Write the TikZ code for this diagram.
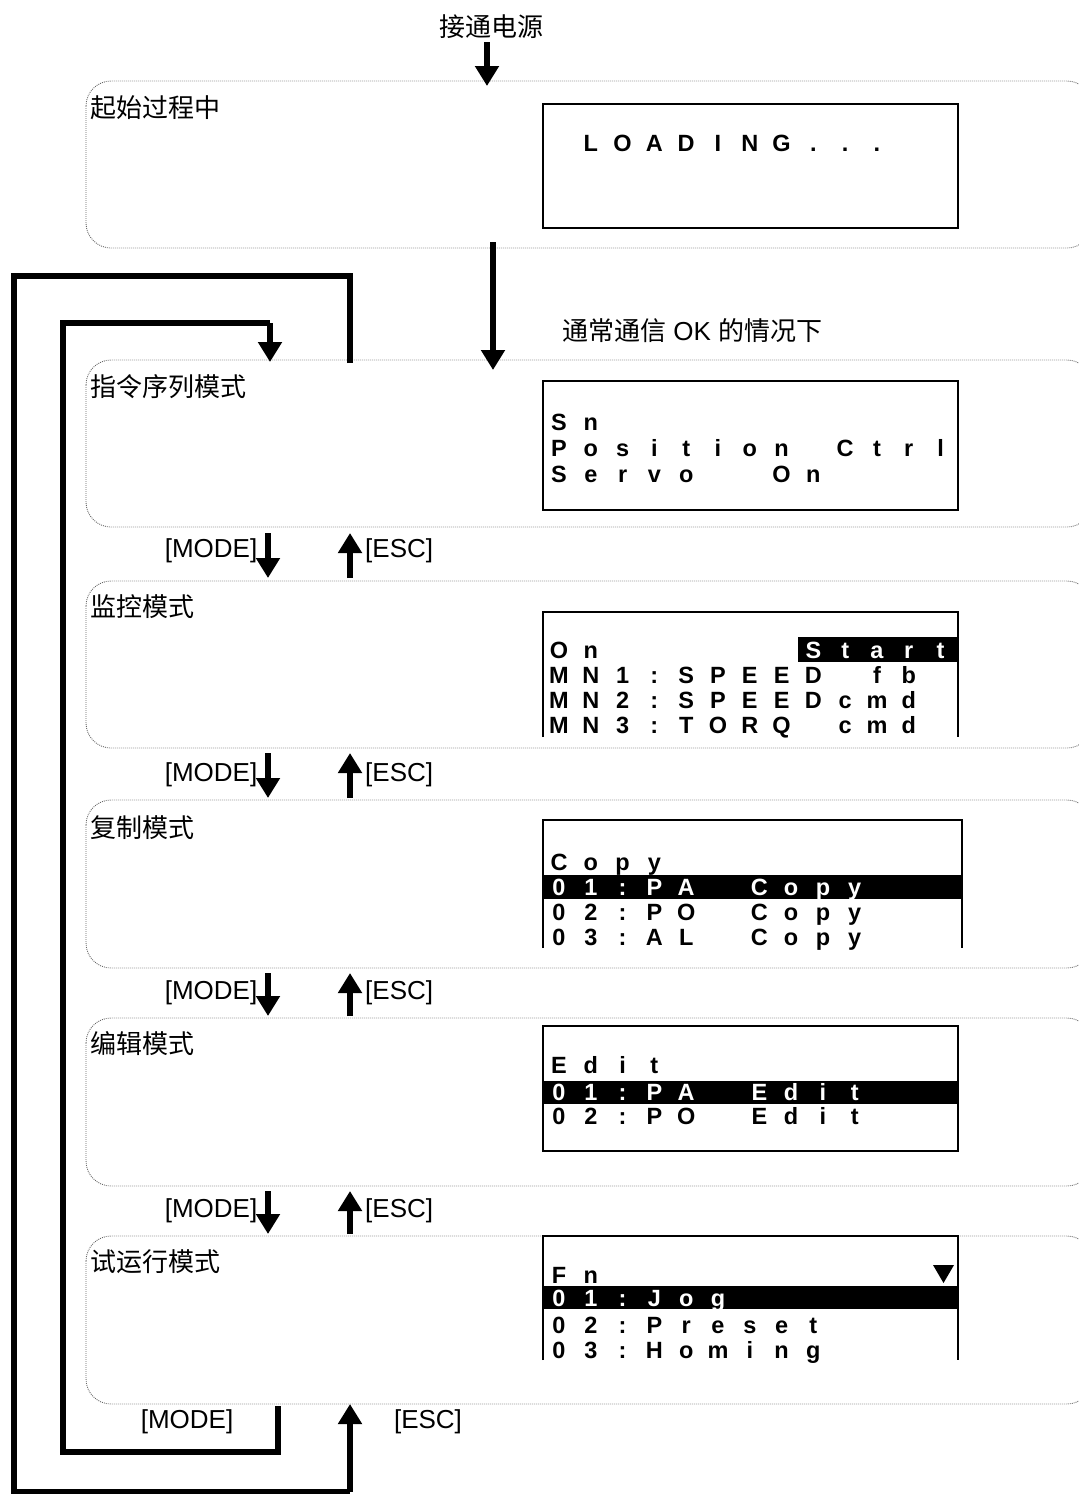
\documentclass[tikz,border=0pt]{standalone}
\usepackage{fontspec}
\setmainfont{Liberation Sans}
\newfontfamily\cjk{Noto Sans CJK SC}
\usetikzlibrary{arrows.meta}
\tikzset{
  modebox/.style={draw=black!60, line width=0.9pt, dash pattern=on 0.9pt off 1.1pt, rounded corners=25pt},
  lcdframe/.style={draw=black, line width=2.2pt},
  flow/.style={line width=6pt, -{Triangle[width=23pt,length=20pt]}},
  loopline/.style={line width=6pt, line join=miter},
  modelbl/.style={anchor=west, inner sep=0pt, font=\cjk\fontsize{26}{30}\selectfont},
  keylbl/.style={inner sep=0pt, font=\fontsize{26}{30}\selectfont},
  lcdch/.style={inner sep=0pt, text height=17pt, text depth=0pt, font=\fontsize{23.5}{26}\selectfont\bfseries},
  hibar/.style={fill=black}
}
\newcommand\lcdrow[5]{%
  \foreach \ch [count=\k from 0] in {#5} {\node[lcdch,text=#2] (#1-\k) at ({559+31.8*(#3+\k)},#4) {\ch};}}
\begin{document}
\begin{tikzpicture}[x=1pt,y=-1pt]
\useasboundingbox (0,0) rectangle (1079,1494);

% top label
\node[keylbl, font=\cjk\fontsize{26}{30}\selectfont] (power) at (491,27) {接通电源};

% mode boxes
\draw[modebox] (86,81) rectangle (1092,248);
\draw[modebox] (86,360) rectangle (1092,527);
\draw[modebox] (86,581) rectangle (1092,748);
\draw[modebox] (86,800) rectangle (1092,968);
\draw[modebox] (86,1018) rectangle (1092,1186);
\draw[modebox] (86,1236) rectangle (1092,1404);

\node[modelbl] (m1) at (90,108) {起始过程中};
\node[modelbl] (m2) at (90,387) {指令序列模式};
\node[modelbl] (m3) at (90,607) {监控模式};
\node[modelbl] (m4) at (90,828) {复制模式};
\node[modelbl] (m5) at (90,1044) {编辑模式};
\node[modelbl] (m6) at (90,1262) {试运行模式};

% flow arrows
\coordinate (a0) at (487,42); \coordinate (a1) at (487,86);
\draw[flow] (a0) -- (a1);
\coordinate (b0) at (493,242); \coordinate (b1) at (493,370);
\draw[flow] (b0) -- (b1);
\node[anchor=west, inner sep=0pt, font=\fontsize{26}{30}\selectfont] (okl) at (562,331) {{\cjk 通常通信} OK {\cjk 的情况下}};

% MODE / ESC between boxes
\foreach \yt/\ya/\yb [count=\n] in {551/533/578, 775/753/798, 993/973/1016, 1211/1191/1234} {
  \node[keylbl] (mode\n) at (211,\yt) {[MODE]};
  \node[keylbl,anchor=west] (esc\n) at (365,\yt) {[ESC]};
  \coordinate (md\n a) at (268,\ya); \coordinate (md\n b) at (268,\yb);
  \coordinate (es\n a) at (350,\yb); \coordinate (es\n b) at (350,\ya);
  \draw[flow] (md\n a) -- (md\n b);
  \draw[flow] (es\n a) -- (es\n b);
}

% bottom labels
\node[keylbl] (modeB) at (187,1422) {[MODE]};
\node[keylbl] (escB) at (428,1422) {[ESC]};

% outer loop (ESC)
\coordinate (o1) at (350,363); \coordinate (o2) at (350,276);
\coordinate (o3) at (14,276); \coordinate (o4) at (14,1492);
\coordinate (o5) at (350,1492); \coordinate (o6) at (350,1404);
\draw[loopline] (o1) -- (o2) -- (o3) -- (o4) -- (o5);
\draw[flow] (o5) -- (o6);

% inner loop (MODE)
\coordinate (i1) at (278,1406); \coordinate (i2) at (278,1452);
\coordinate (i3) at (63,1452); \coordinate (i4) at (63,323);
\coordinate (i5) at (270,323); \coordinate (i6) at (270,362);
\draw[loopline] (i1) -- (i2) -- (i3) -- (i4) -- (i5);
\draw[flow] (i5) -- (i6);

% LCD 1
\draw[lcdframe] (543,104) rectangle (958,228);
\lcdrow{ld}{black}{1}{143}{L,O,A,D,I,N,G,.,.,.}

% LCD 2
\draw[lcdframe] (543,381) rectangle (958,510);
\lcdrow{sa}{black}{0}{422}{S,n}
\lcdrow{sb}{black}{0}{448}{P,o,s,i,t,i,o,n,,C,t,r,l}
\lcdrow{sc}{black}{0}{474}{S,e,r,v,o,,,O,n}

% LCD 3
\draw[lcdframe] (543,737) -- (543,612) -- (958,612) -- (958,737);
\fill[hibar] (798,637) rectangle (958,662);
\lcdrow{ma}{black}{0}{650}{O,n}
\lcdrow{mb}{white}{8}{650}{S,t,a,r,t}
\lcdrow{mc}{black}{0}{675}{M,N,1,:,S,P,E,E,D,,f,b}
\lcdrow{md}{black}{0}{700}{M,N,2,:,S,P,E,E,D,c,m,d}
\lcdrow{me}{black}{0}{725}{M,N,3,:,T,O,R,Q,,c,m,d}

% LCD 4
\draw[lcdframe] (543,948) -- (543,820) -- (962,820) -- (962,948);
\fill[hibar] (543,875) rectangle (962,899);
\lcdrow{ca}{black}{0}{862}{C,o,p,y}
\lcdrow{cb}{white}{0}{887}{0,1,:,P,A}
\lcdrow{cc}{white}{6.3}{887}{C,o,p,y}
\lcdrow{cd}{black}{0}{912}{0,2,:,P,O}
\lcdrow{ce}{black}{6.3}{912}{C,o,p,y}
\lcdrow{cf}{black}{0}{937}{0,3,:,A,L}
\lcdrow{cg}{black}{6.3}{937}{C,o,p,y}

% LCD 5
\draw[lcdframe] (543,1026) rectangle (958,1151);
\fill[hibar] (543,1081) rectangle (958,1104);
\lcdrow{ea}{black}{0}{1065}{E,d,i,t}
\lcdrow{eb}{white}{0}{1092}{0,1,:,P,A}
\lcdrow{ec}{white}{6.3}{1092}{E,d,i,t}
\lcdrow{ed}{black}{0}{1116}{0,2,:,P,O}
\lcdrow{ee}{black}{6.3}{1116}{E,d,i,t}

% LCD 6
\draw[lcdframe] (543,1360) -- (543,1236) -- (958,1236) -- (958,1360);
\fill[hibar] (543,1286) rectangle (958,1309);
\lcdrow{fa}{black}{0}{1275}{F,n}
\fill (933,1265) -- (954,1265) -- (943.5,1283) -- cycle;
\lcdrow{fb}{white}{0}{1298}{0,1,:,J,o,g}
\lcdrow{fc}{black}{0}{1325}{0,2,:,P,r,e,s,e,t}
\lcdrow{fd}{black}{0}{1350}{0,3,:,H,o,m,i,n,g}
\end{tikzpicture}
\end{document}
